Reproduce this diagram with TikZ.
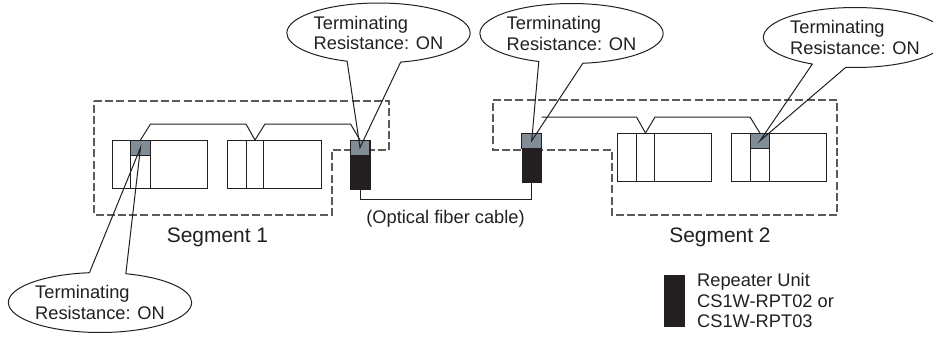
\documentclass[tikz,border=0pt]{standalone}
\usepackage{fontspec}
\setmainfont{Liberation Sans}
\usepackage{xcolor}
\usepackage{tikz}
\usetikzlibrary{shapes.callouts,positioning}
\definecolor{inkcol}{RGB}{35,31,32}
\definecolor{capcol}{RGB}{128,140,150}
\definecolor{rulecol}{RGB}{90,90,90}
\tikzset{
  unitbox/.style={rectangle,draw=inkcol,fill=white,line width=.75pt,minimum width=70.7pt,
    minimum height=36pt,inner sep=0pt,outer sep=0pt},
  slot/.style={rectangle,draw=inkcol,fill=white,line width=.75pt,minimum width=#1,
    minimum height=36pt,inner sep=0pt,outer sep=0pt},
  slot/.default=13pt,
  capbox/.style={rectangle,draw=inkcol,fill=capcol,line width=.75pt,minimum width=#1,
    minimum height=11.4pt,inner sep=0pt,outer sep=0pt},
  capbox/.default=14.3pt,
  rep/.style={rectangle,draw=inkcol,fill=inkcol,minimum width=14.7pt,
    minimum height=36.8pt,inner sep=0pt,outer sep=0pt},
  wire/.style={draw=inkcol,line width=.75pt,line join=miter},
  seg/.style={draw=rulecol,line width=.8pt,dash pattern=on 6pt off 2.4pt},
  note/.style={ellipse callout,draw=inkcol,line width=.75pt,minimum width=135.8pt,
    minimum height=45pt,inner sep=0pt,outer sep=0pt,align=left,callout pointer arc=#1,
    text=inkcol,font=\fontsize{13.7pt}{15.3pt}\selectfont},
  note/.default=28,
  lbl/.style={inner sep=0pt,text=inkcol,align=left,font=\fontsize{13.7pt}{15.6pt}\selectfont},
  seglbl/.style={inner sep=0pt,text=inkcol,font=\fontsize{15.7pt}{18pt}\selectfont}
}

\begin{document}
\begin{tikzpicture}[x=.75pt,y=-.75pt]
    \useasboundingbox (0,0) rectangle (933,339);

    % Segment outlines
    \draw[seg] (94,101) -- (389,101) -- (389,150) -- (332,150) -- (332,215) -- (94,215) -- cycle;
    \draw[seg] (493,100) -- (837,100) -- (837,215) -- (612,215) -- (612,150) -- (493,150) -- cycle;

    % Segment 1
    \node[unitbox] (unitA) at (160,164) {};
    \node[slot=14.3pt] (slotA) at (140.5,164) {};
    \node[capbox] (termA) at (140.5,147.6) {};
    \node[unitbox] (unitB) at (274.5,164) {};
    \node[slot] (slotB) at (255,164) {};
    \node[rep] (repA) at (360,164.4) {};
    \node[capbox=14.7pt] (capA) at (360,147.6) {};

    % Segment 2
    \node[rep] (repB) at (531.7,158) {};
    \node[capbox=14.7pt] (capB) at (531.7,140.8) {};
    \node[unitbox] (unitC) at (664.3,157) {};
    \node[slot] (slotC) at (645.5,157) {};
    \node[unitbox] (unitD) at (779,157) {};
    \node[slot=14pt] (slotD) at (760,157) {};
    \node[capbox=14pt] (termD) at (760,140.8) {};

    % Wiring
    \coordinate (tapB) at (541.5,117);
    \draw[wire] (termA.north) -- ++(10,-16) -- (246,124) -- (slotB.north);
    \draw[wire] (slotB.north) -- ++(10,-16) -- (350.5,124) -- (capA.north);
    \draw[wire] (tapB) -- (636.5,117) -- (slotC.north);
    \draw[wire] (slotC.north) -- ++(9.5,-16) -- (750,117) -- (termD.north);
    \draw[wire] (repA.south) -- ++(0,10.4) -| (repB.south);

    % Callouts
    \node[note=34,callout absolute pointer={(capA.center)}] (noteA) at (378.5,33) {Terminating\\Resistance: ON};
    \node[note=28,callout absolute pointer={(capB.center)}] (noteB) at (571.5,33.5) {Terminating\\Resistance: ON};
    \node[note=22,callout absolute pointer={(termD.center)}] (noteC) at (855,37.5) {Terminating\\Resistance: ON};
    \node[note=23,callout absolute pointer={(termA.center)}] (noteD) at (100,302.5) {Terminating\\Resistance: ON};

    % Labels
    \node[seglbl] (segA) at (217.5,237) {Segment 1};
    \node[seglbl] (segB) at (720,237) {Segment 2};
    \node[lbl] (fiber) at (445.5,219) {(Optical fiber cable)};

    % Legend
    \node[rep,minimum width=15pt,minimum height=38pt] (keyrep) at (674,300.5) {};
    \node[lbl,right=9.7pt of keyrep] (keytxt) {Repeater Unit\\CS1W-RPT02 or\\CS1W-RPT03};
\end{tikzpicture}
\end{document}
